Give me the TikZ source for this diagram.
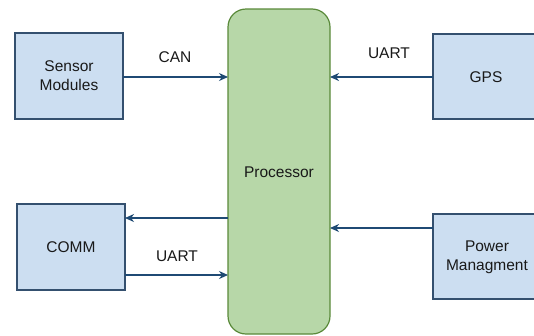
\documentclass[tikz,border=0pt]{standalone}
\usepackage{fontspec}
\setmainfont{Liberation Sans}
\usetikzlibrary{arrows.meta}
\definecolor{blkfill}{HTML}{CCDEF1}
\definecolor{blkline}{HTML}{34506F}
\definecolor{cpufill}{HTML}{B7D7A8}
\definecolor{cpuline}{HTML}{5A8A3A}
\definecolor{wire}{HTML}{1F4A74}
\begin{document}
\begin{tikzpicture}[x=1pt,y=-1pt,
  every node/.style={font=\fontsize{15.5}{19}\selectfont, text=black!90},
  block/.style={draw=blkline, fill=blkfill, line width=1.2pt, align=center},
  link/.style={draw=wire, line width=1.4pt, -{Stealth[length=9pt,width=8pt]}},
  lbl/.style={inner sep=0pt}]
  \useasboundingbox (0,0) rectangle (534,335);
  \clip (0,0) rectangle (534,335);
  \fill[white] (0,0) rectangle (534,335);

  % central processor
  \draw[draw=cpuline, fill=cpufill, line width=1.2pt, rounded corners=18pt]
    (228,9) rectangle (330,334);
  \node (cpu) at (279,172) {Processor};

  % peripheral blocks
  \draw[block] (15,33) rectangle (123,119);
  \node[align=center] (sens) at (69,76) {Sensor\\Modules};
  \draw[block] (433,34) rectangle (540,119);
  \node (gps) at (486,77) {GPS};
  \draw[block] (17,204) rectangle (125,290);
  \node (comm) at (71,247) {COMM};
  \draw[block] (433,214) rectangle (540,299);
  \node[align=center] (pwr) at (487,257) {Power\\Managment};

  % connectors
  \coordinate (s0) at (123,77);  \coordinate (s1) at (228,77);
  \coordinate (g0) at (433,77);  \coordinate (g1) at (330,77);
  \coordinate (c0) at (228,218); \coordinate (c1) at (125,218);
  \coordinate (c2) at (125,275); \coordinate (c3) at (228,275);
  \coordinate (p0) at (433,228); \coordinate (p1) at (330,228);
  \draw[link] (s0) -- (s1);
  \draw[link] (g0) -- (g1);
  \draw[link] (c0) -- (c1);
  \draw[link] (c2) -- (c3);
  \draw[link] (p0) -- (p1);

  % bus labels
  \node[lbl] (can) at (175,57) {CAN};
  \node[lbl] (u1) at (389,53) {UART};
  \node[lbl] (u2) at (177,256) {UART};
\end{tikzpicture}
\end{document}
